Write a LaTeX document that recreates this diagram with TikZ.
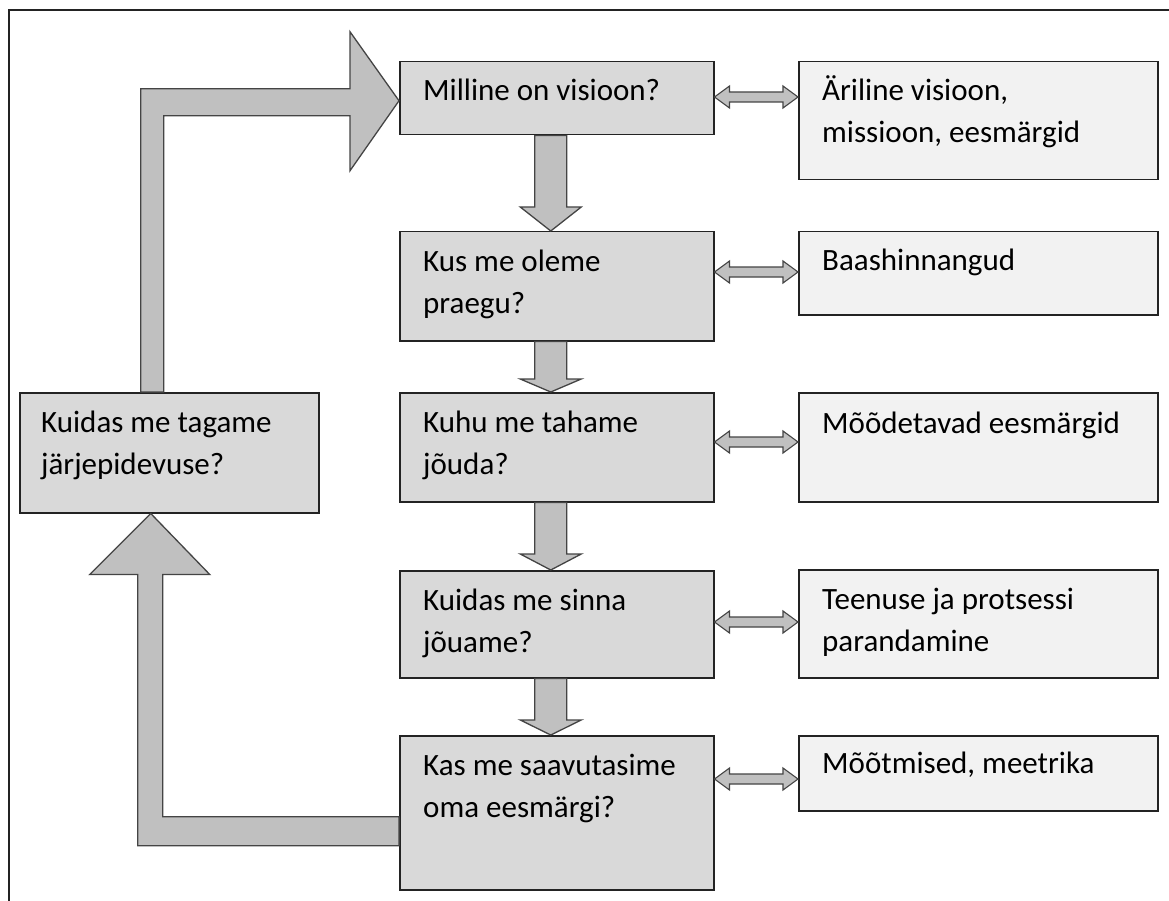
\documentclass[tikz,border=0pt]{standalone}
\usepackage{fontspec}
\setmainfont{Carlito}
\usepackage{tikz}
\usetikzlibrary{calc}

\definecolor{kysimus}{RGB}{217,217,217}
\definecolor{vastus}{RGB}{242,242,242}
\definecolor{noolehall}{RGB}{192,192,192}
\definecolor{joon}{RGB}{35,35,35}

\tikzset{
  kast/.style={draw=joon, line width=1.5pt, anchor=north west, inner sep=0pt},
  kysikast/.style={kast, fill=kysimus, minimum width=314pt},
  vastkast/.style={kast, fill=vastus, minimum width=359pt},
  tekst/.style={anchor=base west, inner sep=0pt, font=\fontsize{31}{42}\selectfont},
  plokknool/.style={draw=joon!85, fill=noolehall, line width=1.3pt, line join=miter},
}
\newcommand{\ridad}[1]{\parbox[t]{330pt}{\raggedright #1}}
% block arrow pointing down from box #1 to box #2, head length #3
\newcommand{\allanool}[3]{%
  \draw[plokknool] ($(#1.south)+(-22,0)$) -- ($(#2.north)+(-22,-#3)$)
    -- ($(#2.north)+(-36.5,-#3)$) -- ($(#2.north)+(-6,0)$)
    -- ($(#2.north)+(24.5,-#3)$) -- ($(#2.north)+(10,-#3)$)
    -- ($(#1.south)+(10,0)$) -- cycle;}

\begin{document}
\begin{tikzpicture}[x=1pt, y=-1pt]
    \useasboundingbox (0,0) rectangle (1169,901);
    \fill[white] (0,0) rectangle (1169,901);
    \draw[line width=2pt, joon] (9,901) -- (9,10) -- (1169,10);

    % questions
    \node[kysikast, minimum height=73pt] (q1) at (399,61) {};
    \node[kysikast, minimum height=109pt] (q2) at (399,231) {};
    \node[kysikast, minimum height=109pt] (q3) at (399,392) {};
    \node[kysikast, minimum height=107pt] (q4) at (399,570) {};
    \node[kysikast, minimum height=154pt] (q5) at (399,735) {};
    \node[kysikast, minimum width=299pt, minimum height=120pt] (kontroll) at (19,392) {};

    % answers
    \node[vastkast, minimum height=118pt] (a1) at (798,61) {};
    \node[vastkast, minimum height=83pt] (a2) at (798,231) {};
    \node[vastkast, minimum height=109pt] (a3) at (798,392) {};
    \node[vastkast, minimum height=108pt] (a4) at (798,569) {};
    \node[vastkast, minimum height=75pt] (a5) at (798,735) {};

    \node[tekst] (q1t) at ($(q1.north west)+(24,40)$) {\ridad{Milline on visioon?}};
    \node[tekst] (q2t) at ($(q2.north west)+(24,40)$) {\ridad{Kus me oleme\\praegu?}};
    \node[tekst] (q3t) at ($(q3.north west)+(24,40)$) {\ridad{Kuhu me tahame\\jõuda?}};
    \node[tekst] (q4t) at ($(q4.north west)+(24,40)$) {\ridad{Kuidas me sinna\\jõuame?}};
    \node[tekst] (q5t) at ($(q5.north west)+(24,40)$) {\ridad{Kas me saavutasime\\oma eesmärgi?}};
    \node[tekst] (kt) at ($(kontroll.north west)+(22,40)$) {\ridad{Kuidas me tagame\\järjepidevuse?}};

    \node[tekst] (a1t) at ($(a1.north west)+(24,40)$) {\ridad{Äriline visioon,\\missioon, eesmärgid}};
    \node[tekst] (a2t) at ($(a2.north west)+(24,39)$) {\ridad{Baashinnangud}};
    \node[tekst] (a3t) at ($(a3.north west)+(24,41)$) {\ridad{Mõõdetavad eesmärgid}};
    \node[tekst] (a4t) at ($(a4.north west)+(24,40)$) {\ridad{Teenuse ja protsessi\\parandamine}};
    \node[tekst] (a5t) at ($(a5.north west)+(24,38)$) {\ridad{Mõõtmised, meetrika}};

    % down arrows
    \allanool{q1}{q2}{24}
    \allanool{q2}{q3}{13}
    \allanool{q3}{q4}{16}
    \allanool{q4}{q5}{15}

    % two-way arrows
    \foreach \i/\d in {1/36,2/41,3/50,4/52,5/44}{
      \coordinate (v\i) at ($(q\i.north east)+(0,\d)$);
      \coordinate (p\i) at (v\i -| a\i.west);
      \draw[plokknool, line width=1.1pt] (v\i) -- ++(15,-11) -- ++(0,6)
        -- ($(p\i)+(-15,-5)$) -- ++(0,-6) -- (p\i) -- ++(-15,11) -- ++(0,-6)
        -- ($(v\i)+(15,5)$) -- ++(0,6) -- cycle;
    }

    % loop back to the vision
    \draw[plokknool] ($(kontroll.north)+(-28.5,0)$) |- ($(q1.west)+(-49,-9.5)$)
      -- ++(0,-57) -- ($(q1.west)+(0,2.5)$) -- ($(q1.west)+(-49,72.5)$)
      -- ++(0,-55) -| ($(kontroll.north)+(-5.5,0)$) -- cycle;
    \draw[plokknool] ($(q5.west)+(0,4)$) -| ($(kontroll.south)+(-6.5,61)$)
      -- ++(47,0) -- ($(kontroll.south)+(-18.5,0)$) -- ++(-61,61)
      -- ++(48,0) |- ($(q5.west)+(0,33)$) -- cycle;
\end{tikzpicture}
\end{document}
